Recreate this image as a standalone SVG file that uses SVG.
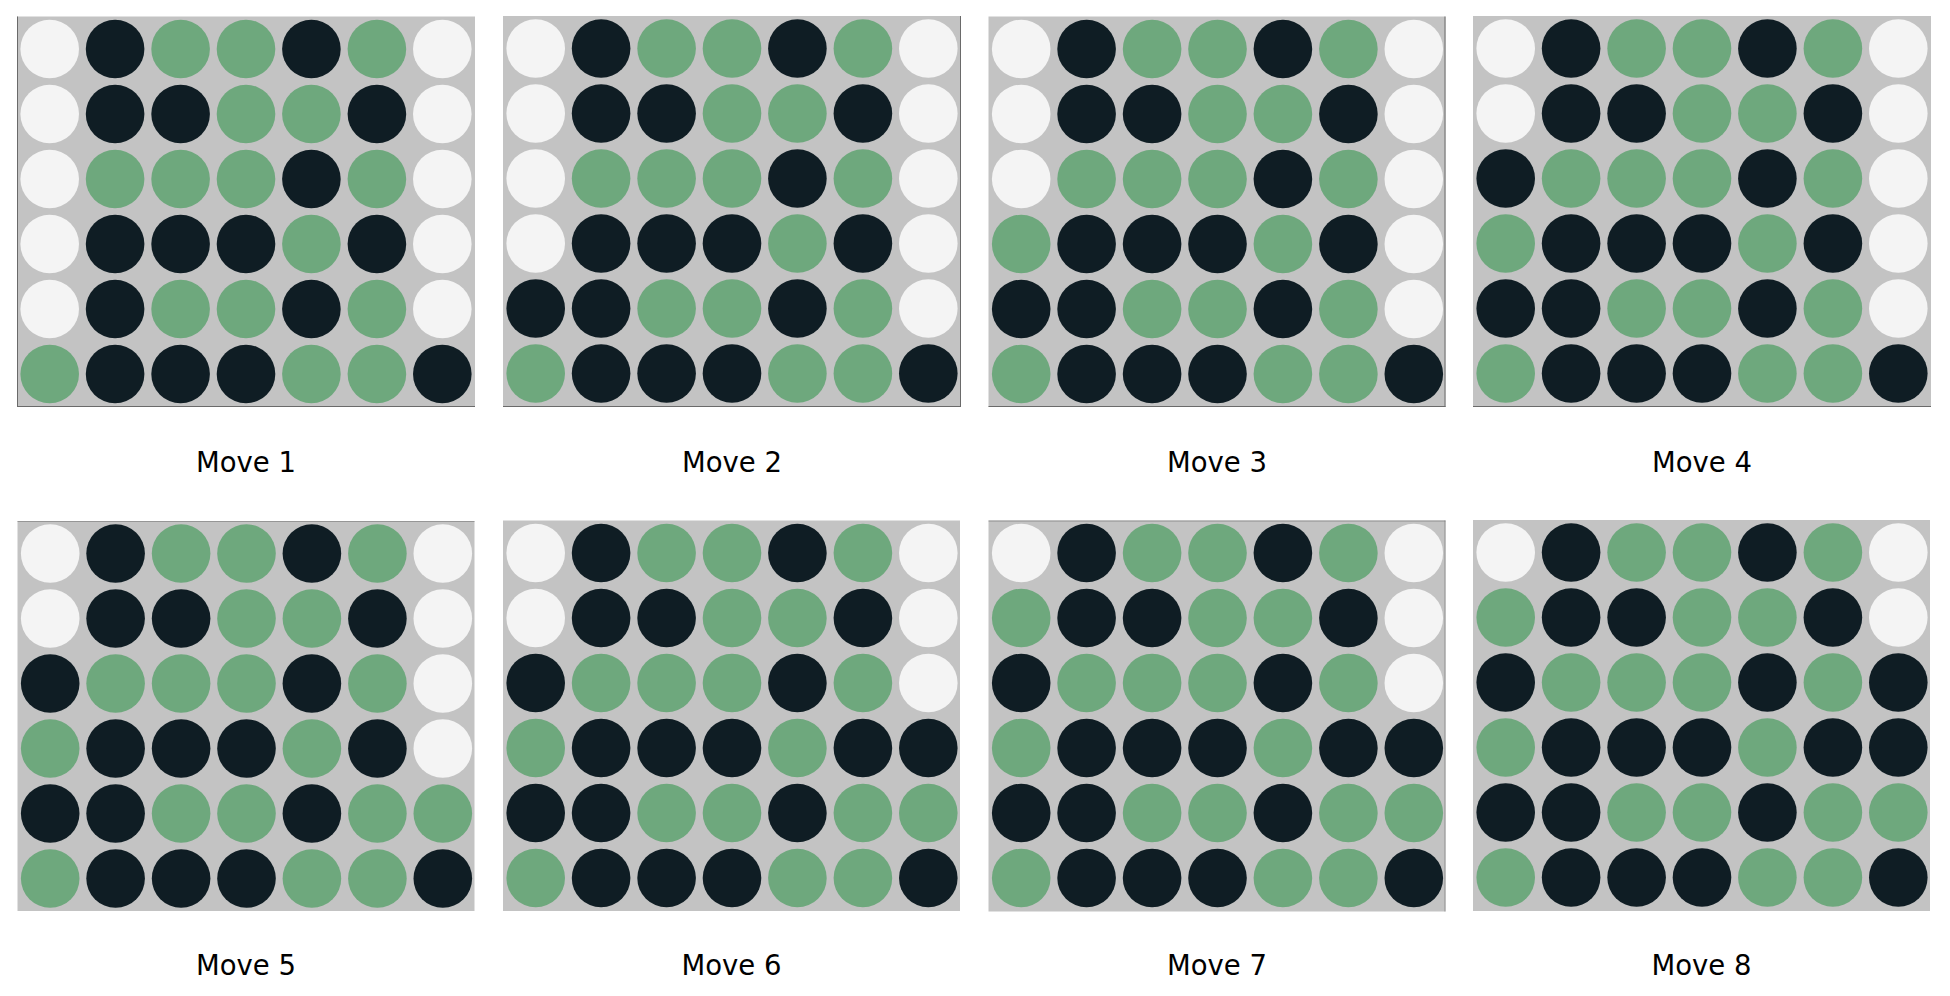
<svg xmlns="http://www.w3.org/2000/svg" width="1950" height="996" viewBox="0 0 1950 996">
<style>
.bd{fill:#c3c3c3}
.edge{fill:none;stroke:#6a6a6a;stroke-width:1}
circle{r:29.3px}
.w{fill:#f4f4f4}
.b{fill:#0f1d24}
.g{fill:#6ea87d}
.lbl{font-family:"DejaVu Sans",sans-serif;font-size:27.5px;fill:#000;text-anchor:middle}
</style>
<rect width="1950" height="996" fill="#ffffff"/>
<g id="move1" transform="translate(17,16.5)">
<rect class="bd" width="458" height="390.5"/>
<path class="edge" d="M0.5,0V390M0,390H458"/>
<circle class="w" cx="32.7" cy="32.5" r="29.3"/><circle class="b" cx="98.1" cy="32.5" r="29.3"/><circle class="g" cx="163.6" cy="32.5" r="29.3"/><circle class="g" cx="229" cy="32.5" r="29.3"/><circle class="b" cx="294.4" cy="32.5" r="29.3"/><circle class="g" cx="359.9" cy="32.5" r="29.3"/><circle class="w" cx="425.3" cy="32.5" r="29.3"/>
<circle class="w" cx="32.7" cy="97.5" r="29.3"/><circle class="b" cx="98.1" cy="97.5" r="29.3"/><circle class="b" cx="163.6" cy="97.5" r="29.3"/><circle class="g" cx="229" cy="97.5" r="29.3"/><circle class="g" cx="294.4" cy="97.5" r="29.3"/><circle class="b" cx="359.9" cy="97.5" r="29.3"/><circle class="w" cx="425.3" cy="97.5" r="29.3"/>
<circle class="w" cx="32.7" cy="162.5" r="29.3"/><circle class="g" cx="98.1" cy="162.5" r="29.3"/><circle class="g" cx="163.6" cy="162.5" r="29.3"/><circle class="g" cx="229" cy="162.5" r="29.3"/><circle class="b" cx="294.4" cy="162.5" r="29.3"/><circle class="g" cx="359.9" cy="162.5" r="29.3"/><circle class="w" cx="425.3" cy="162.5" r="29.3"/>
<circle class="w" cx="32.7" cy="227.5" r="29.3"/><circle class="b" cx="98.1" cy="227.5" r="29.3"/><circle class="b" cx="163.6" cy="227.5" r="29.3"/><circle class="b" cx="229" cy="227.5" r="29.3"/><circle class="g" cx="294.4" cy="227.5" r="29.3"/><circle class="b" cx="359.9" cy="227.5" r="29.3"/><circle class="w" cx="425.3" cy="227.5" r="29.3"/>
<circle class="w" cx="32.7" cy="292.5" r="29.3"/><circle class="b" cx="98.1" cy="292.5" r="29.3"/><circle class="g" cx="163.6" cy="292.5" r="29.3"/><circle class="g" cx="229" cy="292.5" r="29.3"/><circle class="b" cx="294.4" cy="292.5" r="29.3"/><circle class="g" cx="359.9" cy="292.5" r="29.3"/><circle class="w" cx="425.3" cy="292.5" r="29.3"/>
<circle class="g" cx="32.7" cy="357.5" r="29.3"/><circle class="b" cx="98.1" cy="357.5" r="29.3"/><circle class="b" cx="163.6" cy="357.5" r="29.3"/><circle class="b" cx="229" cy="357.5" r="29.3"/><circle class="g" cx="294.4" cy="357.5" r="29.3"/><circle class="g" cx="359.9" cy="357.5" r="29.3"/><circle class="b" cx="425.3" cy="357.5" r="29.3"/>
<text class="lbl" x="229" y="455">Move 1</text>
</g>
<g id="move2" transform="translate(503,16)">
<rect class="bd" width="458" height="391"/>
<path class="edge" d="M0,390.5H458M457.5,0V391"/>
<circle class="w" cx="32.7" cy="32.5" r="29.3"/><circle class="b" cx="98.1" cy="32.5" r="29.3"/><circle class="g" cx="163.6" cy="32.5" r="29.3"/><circle class="g" cx="229" cy="32.5" r="29.3"/><circle class="b" cx="294.4" cy="32.5" r="29.3"/><circle class="g" cx="359.9" cy="32.5" r="29.3"/><circle class="w" cx="425.3" cy="32.5" r="29.3"/>
<circle class="w" cx="32.7" cy="97.5" r="29.3"/><circle class="b" cx="98.1" cy="97.5" r="29.3"/><circle class="b" cx="163.6" cy="97.5" r="29.3"/><circle class="g" cx="229" cy="97.5" r="29.3"/><circle class="g" cx="294.4" cy="97.5" r="29.3"/><circle class="b" cx="359.9" cy="97.5" r="29.3"/><circle class="w" cx="425.3" cy="97.5" r="29.3"/>
<circle class="w" cx="32.7" cy="162.5" r="29.3"/><circle class="g" cx="98.1" cy="162.5" r="29.3"/><circle class="g" cx="163.6" cy="162.5" r="29.3"/><circle class="g" cx="229" cy="162.5" r="29.3"/><circle class="b" cx="294.4" cy="162.5" r="29.3"/><circle class="g" cx="359.9" cy="162.5" r="29.3"/><circle class="w" cx="425.3" cy="162.5" r="29.3"/>
<circle class="w" cx="32.7" cy="227.5" r="29.3"/><circle class="b" cx="98.1" cy="227.5" r="29.3"/><circle class="b" cx="163.6" cy="227.5" r="29.3"/><circle class="b" cx="229" cy="227.5" r="29.3"/><circle class="g" cx="294.4" cy="227.5" r="29.3"/><circle class="b" cx="359.9" cy="227.5" r="29.3"/><circle class="w" cx="425.3" cy="227.5" r="29.3"/>
<circle class="b" cx="32.7" cy="292.5" r="29.3"/><circle class="b" cx="98.1" cy="292.5" r="29.3"/><circle class="g" cx="163.6" cy="292.5" r="29.3"/><circle class="g" cx="229" cy="292.5" r="29.3"/><circle class="b" cx="294.4" cy="292.5" r="29.3"/><circle class="g" cx="359.9" cy="292.5" r="29.3"/><circle class="w" cx="425.3" cy="292.5" r="29.3"/>
<circle class="g" cx="32.7" cy="357.5" r="29.3"/><circle class="b" cx="98.1" cy="357.5" r="29.3"/><circle class="b" cx="163.6" cy="357.5" r="29.3"/><circle class="b" cx="229" cy="357.5" r="29.3"/><circle class="g" cx="294.4" cy="357.5" r="29.3"/><circle class="g" cx="359.9" cy="357.5" r="29.3"/><circle class="b" cx="425.3" cy="357.5" r="29.3"/>
<text class="lbl" x="229" y="455.5">Move 2</text>
</g>
<g id="move3" transform="translate(988.5,16.5)">
<rect class="bd" width="457" height="390.5"/>
<path class="edge" d="M0,390H457M456.5,0V390.5"/>
<circle class="w" cx="32.7" cy="32.5" r="29.3"/><circle class="b" cx="98.1" cy="32.5" r="29.3"/><circle class="g" cx="163.6" cy="32.5" r="29.3"/><circle class="g" cx="229" cy="32.5" r="29.3"/><circle class="b" cx="294.4" cy="32.5" r="29.3"/><circle class="g" cx="359.9" cy="32.5" r="29.3"/><circle class="w" cx="425.3" cy="32.5" r="29.3"/>
<circle class="w" cx="32.7" cy="97.5" r="29.3"/><circle class="b" cx="98.1" cy="97.5" r="29.3"/><circle class="b" cx="163.6" cy="97.5" r="29.3"/><circle class="g" cx="229" cy="97.5" r="29.3"/><circle class="g" cx="294.4" cy="97.5" r="29.3"/><circle class="b" cx="359.9" cy="97.5" r="29.3"/><circle class="w" cx="425.3" cy="97.5" r="29.3"/>
<circle class="w" cx="32.7" cy="162.5" r="29.3"/><circle class="g" cx="98.1" cy="162.5" r="29.3"/><circle class="g" cx="163.6" cy="162.5" r="29.3"/><circle class="g" cx="229" cy="162.5" r="29.3"/><circle class="b" cx="294.4" cy="162.5" r="29.3"/><circle class="g" cx="359.9" cy="162.5" r="29.3"/><circle class="w" cx="425.3" cy="162.5" r="29.3"/>
<circle class="g" cx="32.7" cy="227.5" r="29.3"/><circle class="b" cx="98.1" cy="227.5" r="29.3"/><circle class="b" cx="163.6" cy="227.5" r="29.3"/><circle class="b" cx="229" cy="227.5" r="29.3"/><circle class="g" cx="294.4" cy="227.5" r="29.3"/><circle class="b" cx="359.9" cy="227.5" r="29.3"/><circle class="w" cx="425.3" cy="227.5" r="29.3"/>
<circle class="b" cx="32.7" cy="292.5" r="29.3"/><circle class="b" cx="98.1" cy="292.5" r="29.3"/><circle class="g" cx="163.6" cy="292.5" r="29.3"/><circle class="g" cx="229" cy="292.5" r="29.3"/><circle class="b" cx="294.4" cy="292.5" r="29.3"/><circle class="g" cx="359.9" cy="292.5" r="29.3"/><circle class="w" cx="425.3" cy="292.5" r="29.3"/>
<circle class="g" cx="32.7" cy="357.5" r="29.3"/><circle class="b" cx="98.1" cy="357.5" r="29.3"/><circle class="b" cx="163.6" cy="357.5" r="29.3"/><circle class="b" cx="229" cy="357.5" r="29.3"/><circle class="g" cx="294.4" cy="357.5" r="29.3"/><circle class="g" cx="359.9" cy="357.5" r="29.3"/><circle class="b" cx="425.3" cy="357.5" r="29.3"/>
<text class="lbl" x="228.5" y="455">Move 3</text>
</g>
<g id="move4" transform="translate(1473,16)">
<rect class="bd" width="458" height="391"/>
<path class="edge" d="M0,390.5H458"/>
<circle class="w" cx="32.7" cy="32.5" r="29.3"/><circle class="b" cx="98.1" cy="32.5" r="29.3"/><circle class="g" cx="163.6" cy="32.5" r="29.3"/><circle class="g" cx="229" cy="32.5" r="29.3"/><circle class="b" cx="294.4" cy="32.5" r="29.3"/><circle class="g" cx="359.9" cy="32.5" r="29.3"/><circle class="w" cx="425.3" cy="32.5" r="29.3"/>
<circle class="w" cx="32.7" cy="97.5" r="29.3"/><circle class="b" cx="98.1" cy="97.5" r="29.3"/><circle class="b" cx="163.6" cy="97.5" r="29.3"/><circle class="g" cx="229" cy="97.5" r="29.3"/><circle class="g" cx="294.4" cy="97.5" r="29.3"/><circle class="b" cx="359.9" cy="97.5" r="29.3"/><circle class="w" cx="425.3" cy="97.5" r="29.3"/>
<circle class="b" cx="32.7" cy="162.5" r="29.3"/><circle class="g" cx="98.1" cy="162.5" r="29.3"/><circle class="g" cx="163.6" cy="162.5" r="29.3"/><circle class="g" cx="229" cy="162.5" r="29.3"/><circle class="b" cx="294.4" cy="162.5" r="29.3"/><circle class="g" cx="359.9" cy="162.5" r="29.3"/><circle class="w" cx="425.3" cy="162.5" r="29.3"/>
<circle class="g" cx="32.7" cy="227.5" r="29.3"/><circle class="b" cx="98.1" cy="227.5" r="29.3"/><circle class="b" cx="163.6" cy="227.5" r="29.3"/><circle class="b" cx="229" cy="227.5" r="29.3"/><circle class="g" cx="294.4" cy="227.5" r="29.3"/><circle class="b" cx="359.9" cy="227.5" r="29.3"/><circle class="w" cx="425.3" cy="227.5" r="29.3"/>
<circle class="b" cx="32.7" cy="292.5" r="29.3"/><circle class="b" cx="98.1" cy="292.5" r="29.3"/><circle class="g" cx="163.6" cy="292.5" r="29.3"/><circle class="g" cx="229" cy="292.5" r="29.3"/><circle class="b" cx="294.4" cy="292.5" r="29.3"/><circle class="g" cx="359.9" cy="292.5" r="29.3"/><circle class="w" cx="425.3" cy="292.5" r="29.3"/>
<circle class="g" cx="32.7" cy="357.5" r="29.3"/><circle class="b" cx="98.1" cy="357.5" r="29.3"/><circle class="b" cx="163.6" cy="357.5" r="29.3"/><circle class="b" cx="229" cy="357.5" r="29.3"/><circle class="g" cx="294.4" cy="357.5" r="29.3"/><circle class="g" cx="359.9" cy="357.5" r="29.3"/><circle class="b" cx="425.3" cy="357.5" r="29.3"/>
<text class="lbl" x="229" y="455.5">Move 4</text>
</g>
<g id="move5" transform="translate(17.5,521)">
<rect class="bd" width="457" height="390"/>
<path class="edge" d="M0,0.5H457" stroke-opacity="0.5"/>
<circle class="w" cx="32.7" cy="32.5" r="29.3"/><circle class="b" cx="98.1" cy="32.5" r="29.3"/><circle class="g" cx="163.6" cy="32.5" r="29.3"/><circle class="g" cx="229" cy="32.5" r="29.3"/><circle class="b" cx="294.4" cy="32.5" r="29.3"/><circle class="g" cx="359.9" cy="32.5" r="29.3"/><circle class="w" cx="425.3" cy="32.5" r="29.3"/>
<circle class="w" cx="32.7" cy="97.5" r="29.3"/><circle class="b" cx="98.1" cy="97.5" r="29.3"/><circle class="b" cx="163.6" cy="97.5" r="29.3"/><circle class="g" cx="229" cy="97.5" r="29.3"/><circle class="g" cx="294.4" cy="97.5" r="29.3"/><circle class="b" cx="359.9" cy="97.5" r="29.3"/><circle class="w" cx="425.3" cy="97.5" r="29.3"/>
<circle class="b" cx="32.7" cy="162.5" r="29.3"/><circle class="g" cx="98.1" cy="162.5" r="29.3"/><circle class="g" cx="163.6" cy="162.5" r="29.3"/><circle class="g" cx="229" cy="162.5" r="29.3"/><circle class="b" cx="294.4" cy="162.5" r="29.3"/><circle class="g" cx="359.9" cy="162.5" r="29.3"/><circle class="w" cx="425.3" cy="162.5" r="29.3"/>
<circle class="g" cx="32.7" cy="227.5" r="29.3"/><circle class="b" cx="98.1" cy="227.5" r="29.3"/><circle class="b" cx="163.6" cy="227.5" r="29.3"/><circle class="b" cx="229" cy="227.5" r="29.3"/><circle class="g" cx="294.4" cy="227.5" r="29.3"/><circle class="b" cx="359.9" cy="227.5" r="29.3"/><circle class="w" cx="425.3" cy="227.5" r="29.3"/>
<circle class="b" cx="32.7" cy="292.5" r="29.3"/><circle class="b" cx="98.1" cy="292.5" r="29.3"/><circle class="g" cx="163.6" cy="292.5" r="29.3"/><circle class="g" cx="229" cy="292.5" r="29.3"/><circle class="b" cx="294.4" cy="292.5" r="29.3"/><circle class="g" cx="359.9" cy="292.5" r="29.3"/><circle class="g" cx="425.3" cy="292.5" r="29.3"/>
<circle class="g" cx="32.7" cy="357.5" r="29.3"/><circle class="b" cx="98.1" cy="357.5" r="29.3"/><circle class="b" cx="163.6" cy="357.5" r="29.3"/><circle class="b" cx="229" cy="357.5" r="29.3"/><circle class="g" cx="294.4" cy="357.5" r="29.3"/><circle class="g" cx="359.9" cy="357.5" r="29.3"/><circle class="b" cx="425.3" cy="357.5" r="29.3"/>
<text class="lbl" x="228.5" y="454">Move 5</text>
</g>
<g id="move6" transform="translate(503,520.5)">
<rect class="bd" width="457" height="390.5"/>
<circle class="w" cx="32.7" cy="32.5" r="29.3"/><circle class="b" cx="98.1" cy="32.5" r="29.3"/><circle class="g" cx="163.6" cy="32.5" r="29.3"/><circle class="g" cx="229" cy="32.5" r="29.3"/><circle class="b" cx="294.4" cy="32.5" r="29.3"/><circle class="g" cx="359.9" cy="32.5" r="29.3"/><circle class="w" cx="425.3" cy="32.5" r="29.3"/>
<circle class="w" cx="32.7" cy="97.5" r="29.3"/><circle class="b" cx="98.1" cy="97.5" r="29.3"/><circle class="b" cx="163.6" cy="97.5" r="29.3"/><circle class="g" cx="229" cy="97.5" r="29.3"/><circle class="g" cx="294.4" cy="97.5" r="29.3"/><circle class="b" cx="359.9" cy="97.5" r="29.3"/><circle class="w" cx="425.3" cy="97.5" r="29.3"/>
<circle class="b" cx="32.7" cy="162.5" r="29.3"/><circle class="g" cx="98.1" cy="162.5" r="29.3"/><circle class="g" cx="163.6" cy="162.5" r="29.3"/><circle class="g" cx="229" cy="162.5" r="29.3"/><circle class="b" cx="294.4" cy="162.5" r="29.3"/><circle class="g" cx="359.9" cy="162.5" r="29.3"/><circle class="w" cx="425.3" cy="162.5" r="29.3"/>
<circle class="g" cx="32.7" cy="227.5" r="29.3"/><circle class="b" cx="98.1" cy="227.5" r="29.3"/><circle class="b" cx="163.6" cy="227.5" r="29.3"/><circle class="b" cx="229" cy="227.5" r="29.3"/><circle class="g" cx="294.4" cy="227.5" r="29.3"/><circle class="b" cx="359.9" cy="227.5" r="29.3"/><circle class="b" cx="425.3" cy="227.5" r="29.3"/>
<circle class="b" cx="32.7" cy="292.5" r="29.3"/><circle class="b" cx="98.1" cy="292.5" r="29.3"/><circle class="g" cx="163.6" cy="292.5" r="29.3"/><circle class="g" cx="229" cy="292.5" r="29.3"/><circle class="b" cx="294.4" cy="292.5" r="29.3"/><circle class="g" cx="359.9" cy="292.5" r="29.3"/><circle class="g" cx="425.3" cy="292.5" r="29.3"/>
<circle class="g" cx="32.7" cy="357.5" r="29.3"/><circle class="b" cx="98.1" cy="357.5" r="29.3"/><circle class="b" cx="163.6" cy="357.5" r="29.3"/><circle class="b" cx="229" cy="357.5" r="29.3"/><circle class="g" cx="294.4" cy="357.5" r="29.3"/><circle class="g" cx="359.9" cy="357.5" r="29.3"/><circle class="b" cx="425.3" cy="357.5" r="29.3"/>
<text class="lbl" x="228.5" y="454.5">Move 6</text>
</g>
<g id="move7" transform="translate(988.5,520.5)">
<rect class="bd" width="457" height="391"/>
<path class="edge" d="M0,0.5H457M456.5,0V391" stroke-opacity="0.6"/>
<circle class="w" cx="32.7" cy="32.5" r="29.3"/><circle class="b" cx="98.1" cy="32.5" r="29.3"/><circle class="g" cx="163.6" cy="32.5" r="29.3"/><circle class="g" cx="229" cy="32.5" r="29.3"/><circle class="b" cx="294.4" cy="32.5" r="29.3"/><circle class="g" cx="359.9" cy="32.5" r="29.3"/><circle class="w" cx="425.3" cy="32.5" r="29.3"/>
<circle class="g" cx="32.7" cy="97.5" r="29.3"/><circle class="b" cx="98.1" cy="97.5" r="29.3"/><circle class="b" cx="163.6" cy="97.5" r="29.3"/><circle class="g" cx="229" cy="97.5" r="29.3"/><circle class="g" cx="294.4" cy="97.5" r="29.3"/><circle class="b" cx="359.9" cy="97.5" r="29.3"/><circle class="w" cx="425.3" cy="97.5" r="29.3"/>
<circle class="b" cx="32.7" cy="162.5" r="29.3"/><circle class="g" cx="98.1" cy="162.5" r="29.3"/><circle class="g" cx="163.6" cy="162.5" r="29.3"/><circle class="g" cx="229" cy="162.5" r="29.3"/><circle class="b" cx="294.4" cy="162.5" r="29.3"/><circle class="g" cx="359.9" cy="162.5" r="29.3"/><circle class="w" cx="425.3" cy="162.5" r="29.3"/>
<circle class="g" cx="32.7" cy="227.5" r="29.3"/><circle class="b" cx="98.1" cy="227.5" r="29.3"/><circle class="b" cx="163.6" cy="227.5" r="29.3"/><circle class="b" cx="229" cy="227.5" r="29.3"/><circle class="g" cx="294.4" cy="227.5" r="29.3"/><circle class="b" cx="359.9" cy="227.5" r="29.3"/><circle class="b" cx="425.3" cy="227.5" r="29.3"/>
<circle class="b" cx="32.7" cy="292.5" r="29.3"/><circle class="b" cx="98.1" cy="292.5" r="29.3"/><circle class="g" cx="163.6" cy="292.5" r="29.3"/><circle class="g" cx="229" cy="292.5" r="29.3"/><circle class="b" cx="294.4" cy="292.5" r="29.3"/><circle class="g" cx="359.9" cy="292.5" r="29.3"/><circle class="g" cx="425.3" cy="292.5" r="29.3"/>
<circle class="g" cx="32.7" cy="357.5" r="29.3"/><circle class="b" cx="98.1" cy="357.5" r="29.3"/><circle class="b" cx="163.6" cy="357.5" r="29.3"/><circle class="b" cx="229" cy="357.5" r="29.3"/><circle class="g" cx="294.4" cy="357.5" r="29.3"/><circle class="g" cx="359.9" cy="357.5" r="29.3"/><circle class="b" cx="425.3" cy="357.5" r="29.3"/>
<text class="lbl" x="228.5" y="454.5">Move 7</text>
</g>
<g id="move8" transform="translate(1473,520)">
<rect class="bd" width="457" height="391"/>
<circle class="w" cx="32.7" cy="32.5" r="29.3"/><circle class="b" cx="98.1" cy="32.5" r="29.3"/><circle class="g" cx="163.6" cy="32.5" r="29.3"/><circle class="g" cx="229" cy="32.5" r="29.3"/><circle class="b" cx="294.4" cy="32.5" r="29.3"/><circle class="g" cx="359.9" cy="32.5" r="29.3"/><circle class="w" cx="425.3" cy="32.5" r="29.3"/>
<circle class="g" cx="32.7" cy="97.5" r="29.3"/><circle class="b" cx="98.1" cy="97.5" r="29.3"/><circle class="b" cx="163.6" cy="97.5" r="29.3"/><circle class="g" cx="229" cy="97.5" r="29.3"/><circle class="g" cx="294.4" cy="97.5" r="29.3"/><circle class="b" cx="359.9" cy="97.5" r="29.3"/><circle class="w" cx="425.3" cy="97.5" r="29.3"/>
<circle class="b" cx="32.7" cy="162.5" r="29.3"/><circle class="g" cx="98.1" cy="162.5" r="29.3"/><circle class="g" cx="163.6" cy="162.5" r="29.3"/><circle class="g" cx="229" cy="162.5" r="29.3"/><circle class="b" cx="294.4" cy="162.5" r="29.3"/><circle class="g" cx="359.9" cy="162.5" r="29.3"/><circle class="b" cx="425.3" cy="162.5" r="29.3"/>
<circle class="g" cx="32.7" cy="227.5" r="29.3"/><circle class="b" cx="98.1" cy="227.5" r="29.3"/><circle class="b" cx="163.6" cy="227.5" r="29.3"/><circle class="b" cx="229" cy="227.5" r="29.3"/><circle class="g" cx="294.4" cy="227.5" r="29.3"/><circle class="b" cx="359.9" cy="227.5" r="29.3"/><circle class="b" cx="425.3" cy="227.5" r="29.3"/>
<circle class="b" cx="32.7" cy="292.5" r="29.3"/><circle class="b" cx="98.1" cy="292.5" r="29.3"/><circle class="g" cx="163.6" cy="292.5" r="29.3"/><circle class="g" cx="229" cy="292.5" r="29.3"/><circle class="b" cx="294.4" cy="292.5" r="29.3"/><circle class="g" cx="359.9" cy="292.5" r="29.3"/><circle class="g" cx="425.3" cy="292.5" r="29.3"/>
<circle class="g" cx="32.7" cy="357.5" r="29.3"/><circle class="b" cx="98.1" cy="357.5" r="29.3"/><circle class="b" cx="163.6" cy="357.5" r="29.3"/><circle class="b" cx="229" cy="357.5" r="29.3"/><circle class="g" cx="294.4" cy="357.5" r="29.3"/><circle class="g" cx="359.9" cy="357.5" r="29.3"/><circle class="b" cx="425.3" cy="357.5" r="29.3"/>
<text class="lbl" x="228.5" y="455">Move 8</text>
</g>
<g id="connectors"/>
</svg>
